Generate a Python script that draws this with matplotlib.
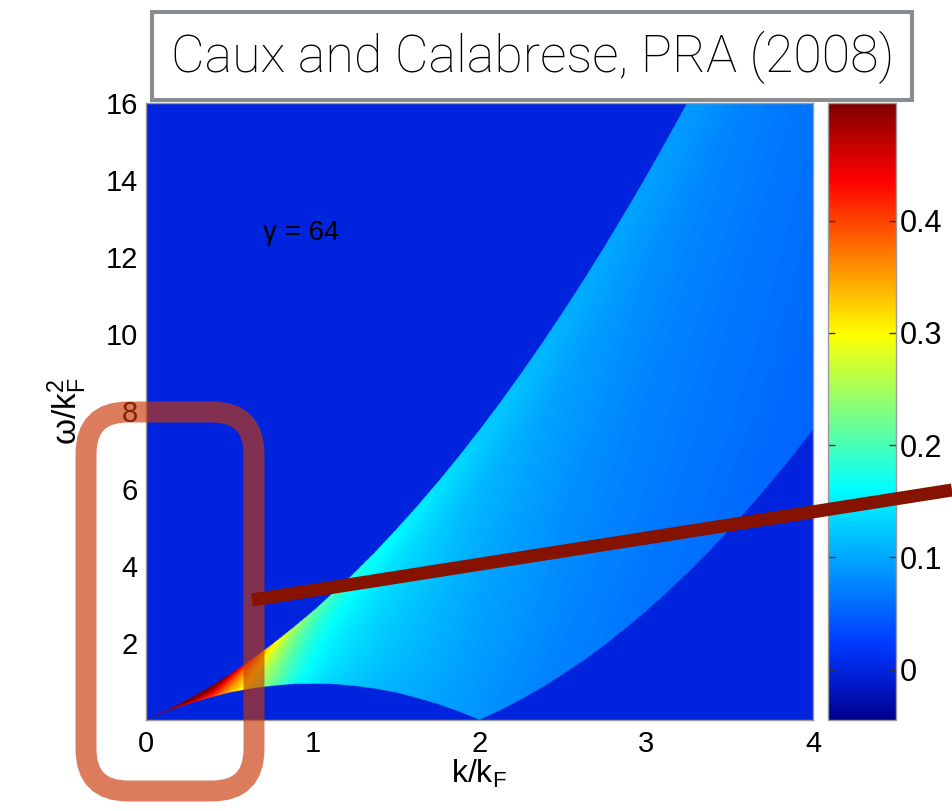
import numpy as np
import matplotlib
matplotlib.use("Agg")
import matplotlib.pyplot as plt
from matplotlib.colors import LinearSegmentedColormap
from matplotlib.patches import FancyBboxPatch, Rectangle

plt.rcParams["font.family"] = ["Liberation Sans", "DejaVu Sans"]
plt.rcParams["mathtext.fontset"] = "custom"
plt.rcParams["mathtext.rm"] = "Liberation Sans"
plt.rcParams["mathtext.it"] = "Liberation Sans"
plt.rcParams["mathtext.bf"] = "Liberation Sans:bold"

# ---- spectrum edges (omega/kF^2 versus k/kF) ----
k_edge = [0.0, 0.125, 0.25, 0.375, 0.5, 0.625, 0.75, 0.875, 1.0,
          1.125, 1.25, 1.375, 1.5, 1.625, 1.75, 1.875, 2.0,
          2.125, 2.25, 2.375, 2.5, 2.625, 2.75, 2.875, 3.0,
          3.125, 3.25, 3.375, 3.5, 3.625, 3.75, 3.875, 4.0]
w_upper = [0.0, 0.25, 0.53, 0.84, 1.18, 1.54, 1.94, 2.37, 2.82,
           3.31, 3.82, 4.36, 4.94, 5.54, 6.17, 6.83, 7.52,
           8.24, 8.99, 9.77, 10.58, 11.41, 12.28, 13.18, 14.10,
           15.06, 16.04, 17.05, 18.10, 19.17, 20.27, 21.40, 22.56]
w_lower = [0.0, 0.22, 0.41, 0.57, 0.71, 0.81, 0.88, 0.93, 0.94,
           0.93, 0.88, 0.81, 0.71, 0.57, 0.41, 0.22, 0.0,
           0.25, 0.53, 0.84, 1.18, 1.54, 1.94, 2.37, 2.82,
           3.31, 3.82, 4.36, 4.94, 5.54, 6.17, 6.83, 7.52]

# ---- weight across the continuum: mid-band value versus k ----
k_prof = [0.0, 0.1, 0.2, 0.3, 0.4, 0.5, 0.6, 0.7, 0.8, 0.9, 1.0, 1.1, 1.2,
          1.4, 1.6, 1.8, 2.0, 2.5, 3.0, 3.5, 4.0]
s_prof = [0.50, 0.52, 0.52, 0.50, 0.46, 0.39, 0.33, 0.27, 0.23, 0.195, 0.17,
          0.155, 0.145, 0.13, 0.12, 0.11, 0.10, 0.085, 0.075, 0.068, 0.062]
# relative weight from lower edge (0) to upper edge (1)
t_prof = [0.0, 0.2, 0.5, 0.8, 0.95, 1.0]
g_prof = [0.85, 0.92, 1.0, 1.12, 1.25, 1.25]
background = 0.0

# jet-like colour scale
cmap_pos = [0.0, 0.082, 0.125, 0.375, 0.625, 0.875, 1.0]
cmap_rgb = ["#00008c", "#0026e2", "#003cff", "#00ffff", "#ffff00",
            "#ff0000", "#800000"]
clim = (-0.045, 0.505)
cbar_ticks = [0.0, 0.1, 0.2, 0.3, 0.4]
cbar_labels = ["0", "0.1", "0.2", "0.3", "0.4"]
x_ticks = [0, 1, 2, 3, 4]
y_ticks = [2, 4, 6, 8, 10, 12, 14, 16]
gamma_label = "γ = 64"
title_text = "Caux and Calabrese, PRA (2008)"

W, H = 952, 811
fig = plt.figure(figsize=(W / 100, H / 100), dpi=100)


def frac(x0, y0, x1, y1):
    return [x0 / W, 1 - y1 / H, (x1 - x0) / W, (y1 - y0) / H]


ax = fig.add_axes(frac(146, 103, 813, 720))
cax = fig.add_axes(frac(828, 103, 896, 720))

cmap = LinearSegmentedColormap.from_list("jetlike", list(zip(cmap_pos, cmap_rgb)))

kk = np.linspace(0, 4, 1600)
ww = np.linspace(0, 16, 1600)
K, Wg = np.meshgrid(kk, ww)
lo = np.interp(kk, k_edge, w_lower)[None, :]
hi = np.interp(kk, k_edge, w_upper)[None, :]
inside = (Wg >= lo) & (Wg <= hi)
t = np.clip((Wg - lo) / np.maximum(hi - lo, 1e-9), 0, 1)
S = np.interp(K, k_prof, s_prof) * np.interp(t, t_prof, g_prof)
Z = np.where(inside, S, background)

im = ax.imshow(Z, origin="lower", extent=[0, 4, 0, 16], aspect="auto",
               cmap=cmap, vmin=clim[0], vmax=clim[1],
               interpolation="antialiased")
ax.set_xlim(0, 4)
ax.set_ylim(0, 16)
ax.set_xticks(x_ticks)
ax.set_yticks(y_ticks)
ax.tick_params(length=0, labelsize=21)
ax.tick_params(axis="x", pad=7)
ax.tick_params(axis="y", pad=6)
for sp in ax.spines.values():
    sp.set_edgecolor("#9a9a9a")
    sp.set_linewidth(1.0)
ax.set_xlabel(r"k/k$_\mathrm{F}$", fontsize=23, labelpad=0)
ax.set_ylabel(r"$\omega$/k$_\mathrm{F}^2$", fontsize=24, labelpad=12)
ax.text(0.70, 12.45, gamma_label, fontsize=20, ha="left", va="baseline")

cb = fig.colorbar(im, cax=cax, ticks=cbar_ticks)
cb.set_ticklabels(cbar_labels)
cb.outline.set_edgecolor("#9a9a9a")
cb.outline.set_linewidth(1.0)
cax.yaxis.set_ticks_position("both")
cax.tick_params(direction="in", length=5, width=1, color="#333333",
                labelsize=22, pad=3, labelleft=False, labelright=True)

# ---- annotation layer in pixel coordinates ----
ov = fig.add_axes([0, 0, 1, 1], zorder=10)
ov.set_xlim(0, W)
ov.set_ylim(H, 0)
ov.axis("off")
ov.patch.set_alpha(0)

ov.add_patch(Rectangle((152, 12), 760, 88, facecolor="white",
                       edgecolor="#8a8d90", linewidth=2.9))
ttl = ov.text(533, 57, title_text, ha="center", va="center", fontsize=34,
              family=["Roboto", "Liberation Sans"], fontweight="light")

ov.add_patch(FancyBboxPatch((86, 412), 168, 379,
                            boxstyle="round,pad=0,rounding_size=42",
                            facecolor="none",
                            edgecolor=(201 / 255, 55 / 255, 6 / 255, 0.65),
                            linewidth=15.1))
ov.plot([252, 952], [600, 490], color="#861200", linewidth=9.4,
        solid_capstyle="butt")

fig.canvas.draw()
bb = ttl.get_window_extent()
ttl.set_fontsize(34 * 723 / bb.width)

fig.savefig("out.png", dpi=100)
